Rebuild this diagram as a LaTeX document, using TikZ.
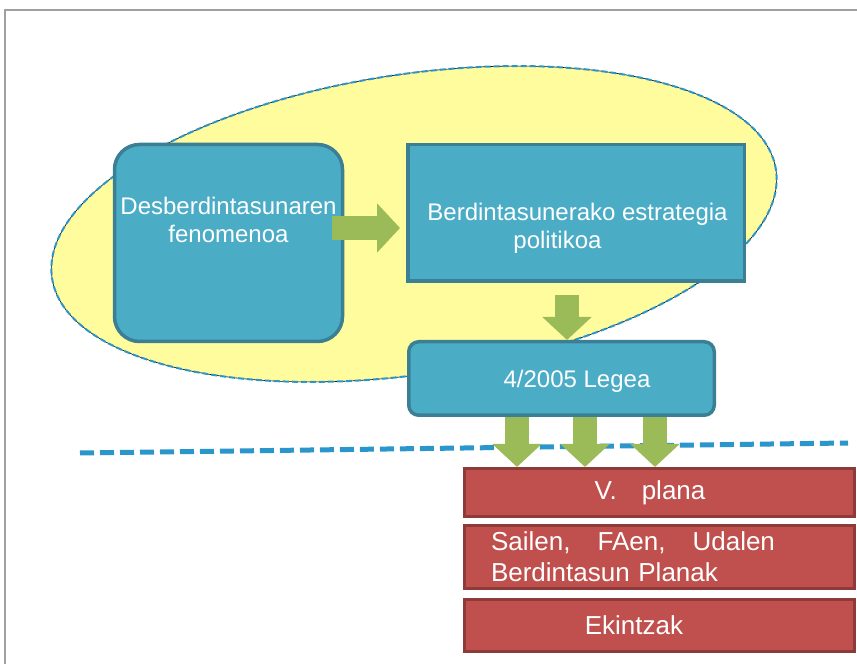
\documentclass[tikz,border=0pt]{standalone}
\usepackage{fontspec}
\setmainfont{Liberation Sans}
\usetikzlibrary{arrows.meta,positioning}

\definecolor{tealFill}{HTML}{4BACC6}
\definecolor{tealEdge}{HTML}{3A7F94}
\definecolor{redFill}{HTML}{C0504D}
\definecolor{redEdge}{HTML}{8E3A38}
\definecolor{arrowGreen}{HTML}{9BBB59}
\definecolor{ovalYellow}{HTML}{FFFC9E}
\definecolor{dashBlue}{HTML}{2B96CB}
\definecolor{frameGray}{HTML}{A0A0A0}

\begin{document}
\begin{tikzpicture}
[x=1pt,y=1pt,
  tealBox/.style={draw=tealEdge,fill=tealFill,line width=3.5pt,inner sep=0pt},
  redBox/.style={draw=redEdge,fill=redFill,line width=3pt,inner sep=0pt,minimum width=390pt},
  boxText/.style={text=white,font=\fontsize{24}{28}\selectfont,align=center},
  redText/.style={text=white,font=\fontsize{26}{31}\selectfont},
  blockArrow/.style={draw=arrowGreen,line width=24pt,-{Triangle[width=48pt,length=23pt]}},
  dashLine/.style={draw=dashBlue,line width=5pt,dash pattern=on 14pt off 6pt}]
\useasboundingbox (0,0) rectangle (857,664);
%% frame
\draw[frameGray,line width=2pt] (5,0) -- (5,654) -- (857,654);
%% oval
\draw[fill=ovalYellow,draw=black,line width=0.6pt,
  postaction={draw=dashBlue,line width=2pt,dash pattern=on 6pt off 3pt},
  rotate around={8.5:(414,440)}] (414,440) ellipse [x radius=366pt,y radius=150pt];
%% blue boxes
\node[tealBox,rounded corners=25pt,minimum width=228pt,minimum height=197pt,
  label={[boxText,yshift=23pt]center:Desberdintasunaren\\fenomenoa}] (fen) at (228.5,421) {};
\node[tealBox,minimum width=336.5pt,minimum height=136.5pt,
  label={[boxText,xshift=1.5pt,yshift=-15pt]center:Berdintasunerako estrategia\\politikoa\hspace{40pt}\null}] (estr) at (576,451) {};
\node[tealBox,rounded corners=10pt,minimum width=305.5pt,minimum height=73.5pt,
  label={[boxText,xshift=15.5pt,yshift=-2.5pt]center:4/2005 Legea}] (leg) at (561.5,285.5) {};
%% red boxes
\node[redBox,minimum height=48pt,
  label={[redText,xshift=-9.5pt]center:V.\hspace{25pt}plana}] (plan) at (659.5,171.5) {};
\node[redBox,minimum height=63pt,below=6pt of plan,
  label={[redText,text width=284pt,align=left,xshift=-26.5pt]center:Sailen,\hfill FAen,\hfill Udalen\\Berdintasun Planak}] (sail) {};
\node[redBox,minimum height=52pt,below=8pt of sail,
  label={[redText,xshift=-25.5pt]center:Ekintzak}] (ekin) {};
%% dashed line
\coordinate (dl) at (80,211);
\coordinate (dr) at (848,221);
\draw[dashLine] (dl) -- (dr);
%% arrows
\coordinate (a1) at ([xshift=-12pt,yshift=15pt]fen.east);
\coordinate (a2) at ([xshift=-6pt]estr.west);
\draw[blockArrow] (a1) -- (a1 -| a2);
\coordinate (b1) at ([xshift=-9pt,yshift=-12pt]estr.south);
\draw[blockArrow] (b1) -- (b1 |- leg.north);
\foreach \dx in {-44.5,23.5,93.5} {
  \coordinate (c1) at ([xshift=\dx pt]leg.south);
  \draw[blockArrow] (c1) -- (c1 |- plan.north);
}
\end{tikzpicture}
\end{document}
